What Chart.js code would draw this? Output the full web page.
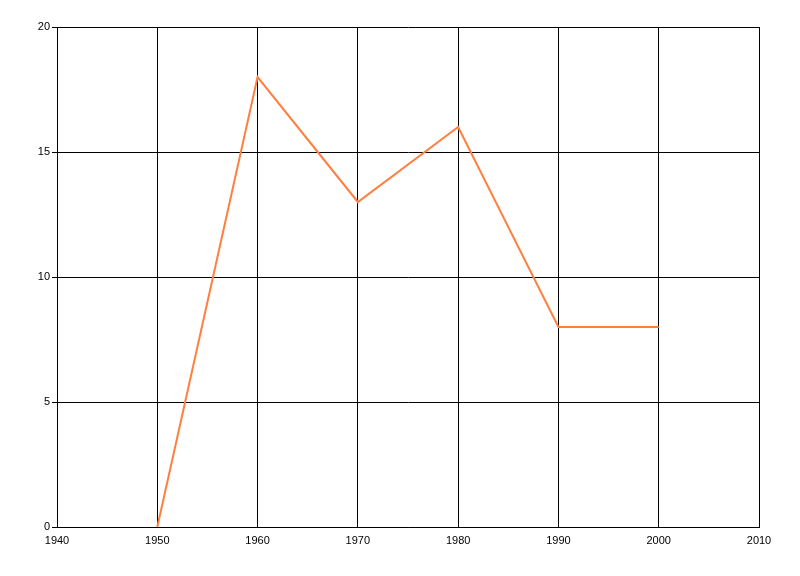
<!DOCTYPE html>
<html>
<head>
<meta charset="utf-8">
<script src="https://cdn.jsdelivr.net/npm/chart.js@4"></script>
<style>
  html, body { margin: 0; padding: 0; background: #fff; }
  canvas { display: block; }
</style>
</head>
<body>
<canvas id="grafico" width="800" height="576"></canvas>
<script>
const anni = [1950, 1960, 1970, 1980, 1990, 2000];
const valori = [0, 18, 13, 16, 8, 8];
const ticksX = [1940, 1950, 1960, 1970, 1980, 1990, 2000, 2010];
const ticksY = [0, 5, 10, 15, 20];

const ctx = document.getElementById('grafico').getContext('2d');

const data = {
  datasets: [{
    label: 'Serie',
    data: anni.map((a, i) => ({ x: a, y: valori[i] })),
    borderColor: '#FF7F3F',
    borderWidth: 2,
    pointRadius: 0,
    tension: 0,
    fill: false
  }]
};

const font = { family: 'Liberation Sans, Arial, sans-serif', size: 11 };

const options = {
  responsive: false,
  animation: false,
  layout: { padding: { left: 0, top: 27, right: 41, bottom: 0 } },
  scales: {
    x: {
      type: 'linear',
      min: 1940,
      max: 2010,
      afterBuildTicks: scale => { scale.ticks = ticksX.map(v => ({ value: v })); },
      afterFit: scale => { scale.height = 49; },
      grid: { color: '#000', lineWidth: 1, drawTicks: false },
      border: { color: '#000', width: 1 },
      ticks: { color: '#000', font: font, padding: 7, maxRotation: 0, callback: v => String(v) }
    },
    y: {
      min: 0,
      max: 20,
      afterBuildTicks: scale => { scale.ticks = ticksY.map(v => ({ value: v })); },
      afterFit: scale => { scale.width = 57; },
      grid: { color: '#000', lineWidth: 1, tickLength: 5 },
      border: { color: '#000', width: 1 },
      ticks: { color: '#000', font: font, padding: 2 }
    }
  },
  plugins: {
    legend: { display: false },
    tooltip: { enabled: false }
  }
};

new Chart(ctx, { type: 'line', data: data, options: options });
</script>
</body>
</html>
